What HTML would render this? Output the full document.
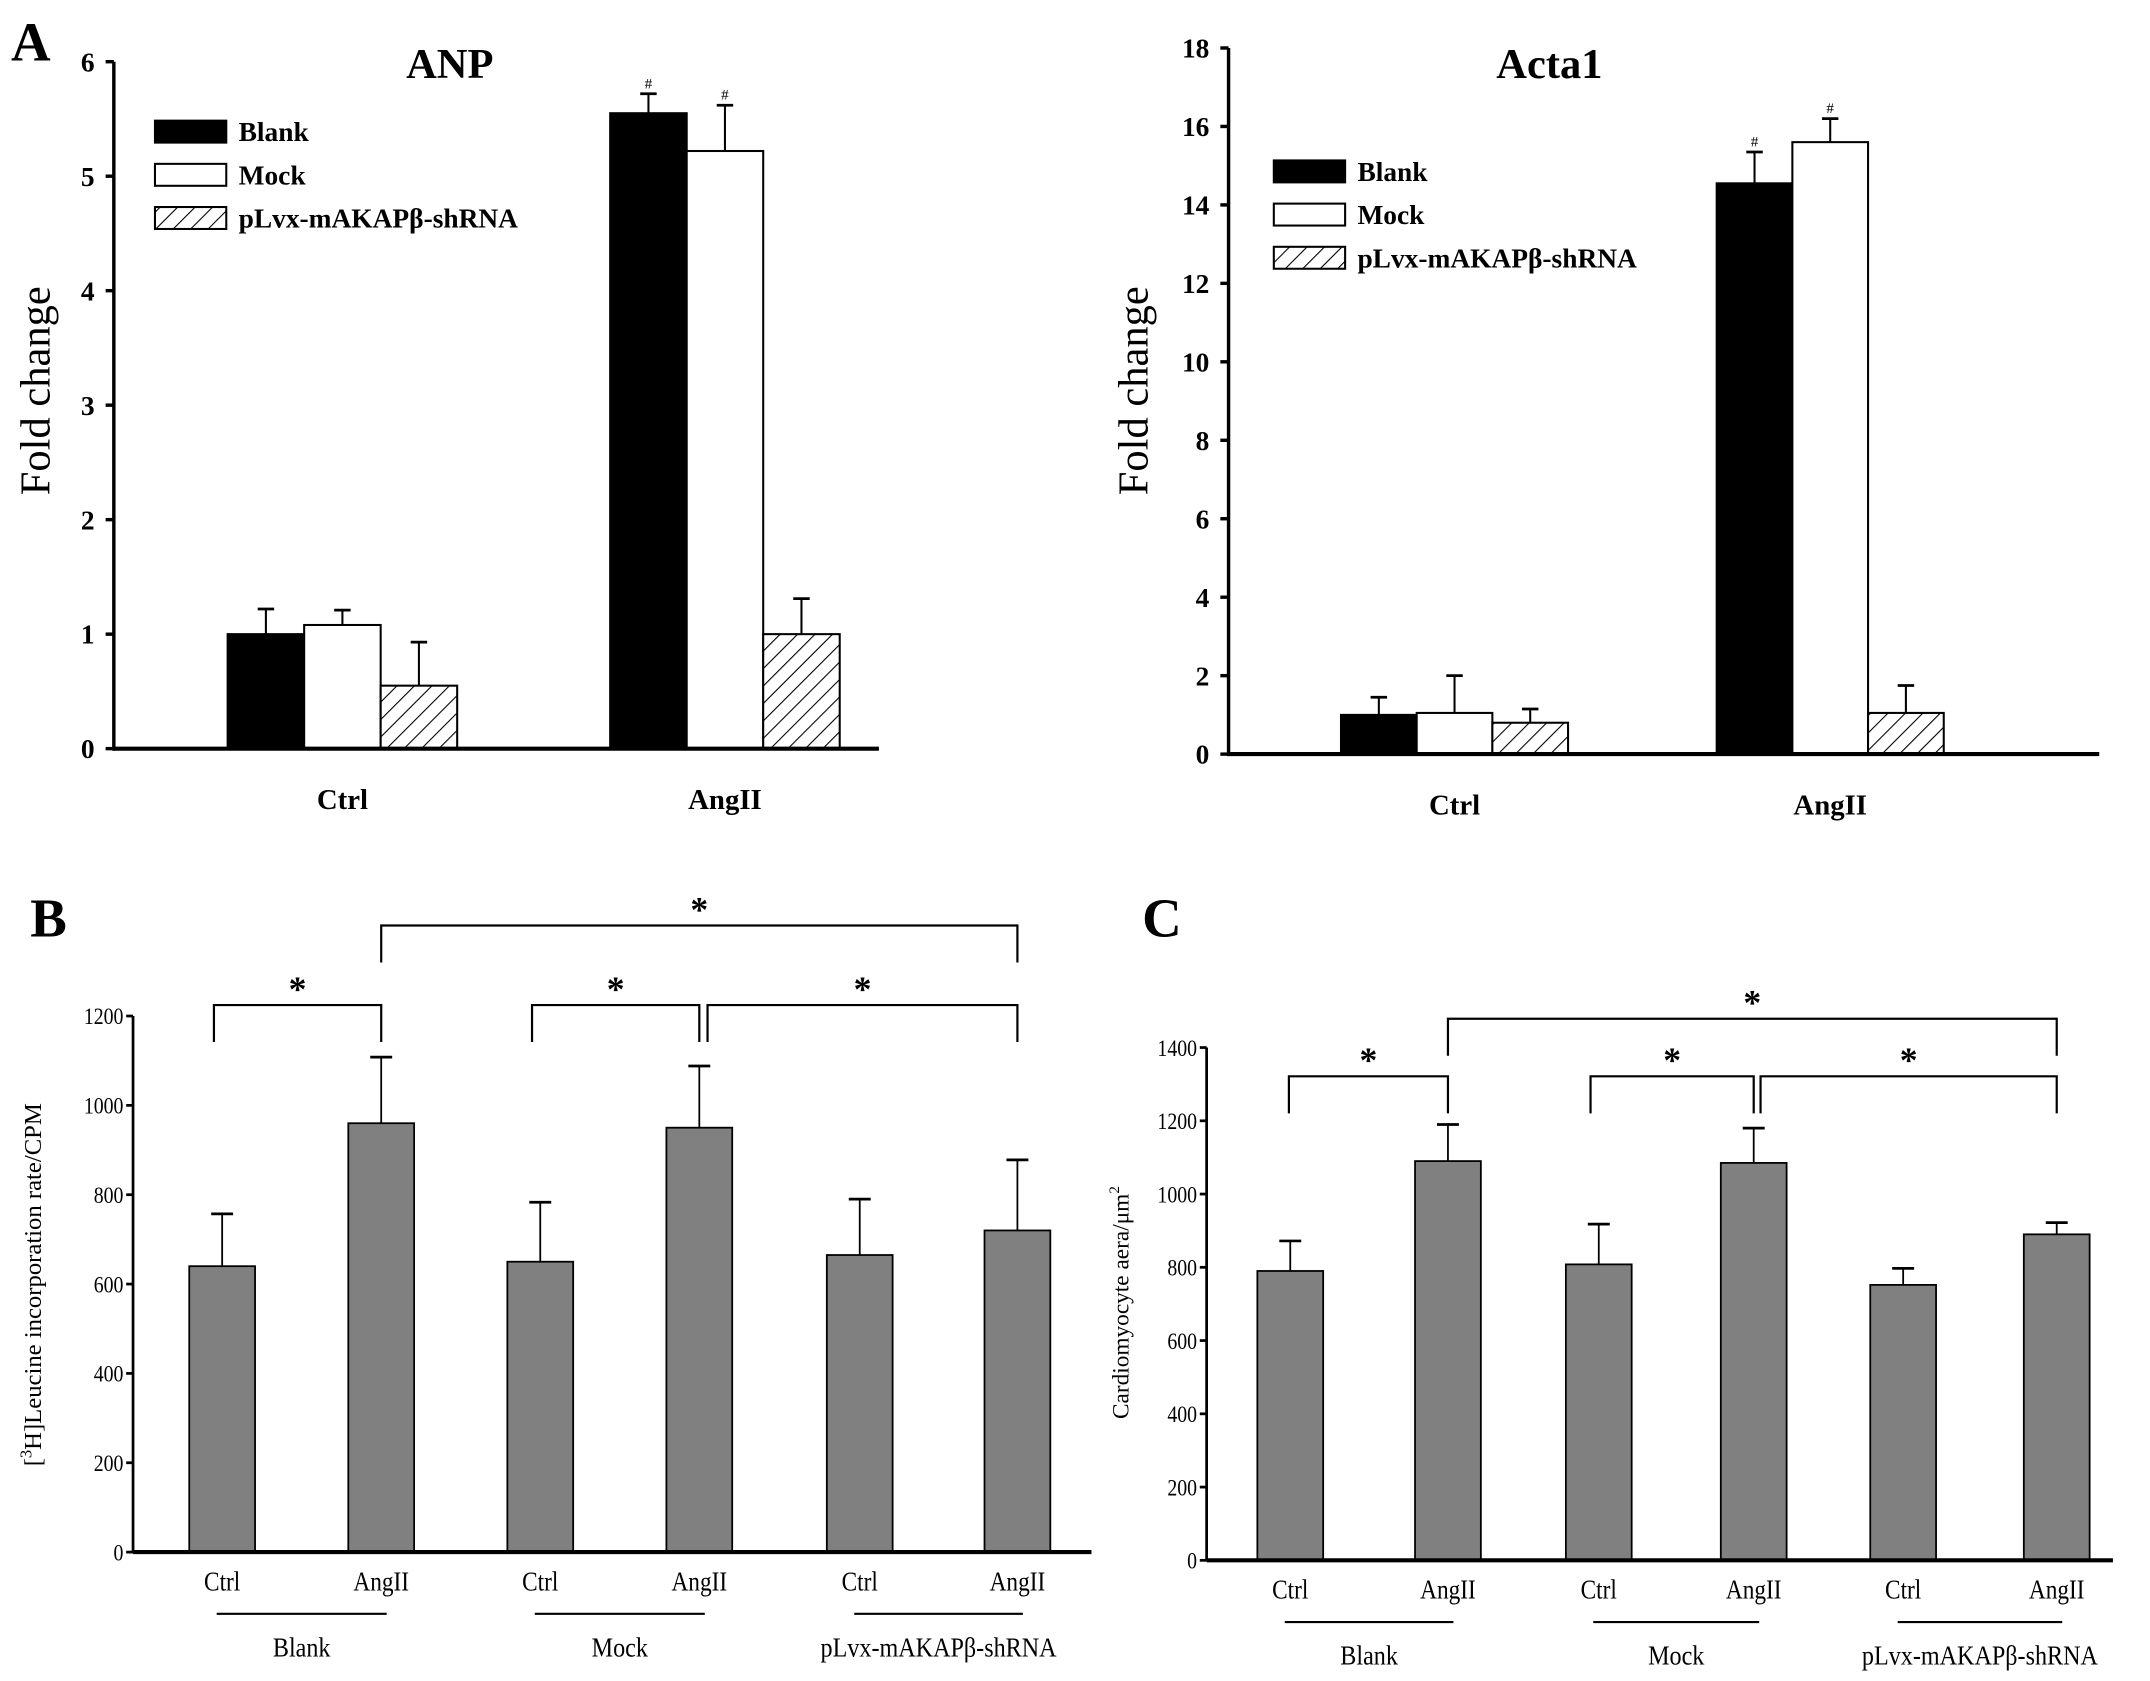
<!DOCTYPE html>
<html><head><meta charset="utf-8"><style>
html,body{margin:0;padding:0;background:#fff}
svg{display:block}
text{font-family:"Liberation Serif",serif;fill:#000}
</style></head><body>
<svg id="fig" width="2150" height="1681" viewBox="0 0 1568 1226" xmlns="http://www.w3.org/2000/svg">
<defs>
<pattern id="hatch" patternUnits="userSpaceOnUse" width="9" height="9" patternTransform="rotate(45)">
<rect width="9" height="9" fill="#fff"/><line x1="0" y1="0" x2="0" y2="9" stroke="#000" stroke-width="1.6"/>
</pattern>
</defs>
<g id="root"></g>
</svg>
<script>
// Panel A - ANP
const anpCats = ["Ctrl","AngII"];
const anpBlank = [1.0, 5.55];
const anpMock = [1.08, 5.22];
const anpSh = [0.55, 1.0];
const anpBlankErr = [0.22, 0.17];
const anpMockErr = [0.13, 0.40];
const anpShErr = [0.38, 0.31];
const anpTicks = [0,1,2,3,4,5,6];
// Panel A - Acta1
const actaCats = ["Ctrl","AngII"];
const actaBlank = [1.0, 14.55];
const actaMock = [1.05, 15.6];
const actaSh = [0.8, 1.05];
const actaBlankErr = [0.45, 0.8];
const actaMockErr = [0.95, 0.6];
const actaShErr = [0.35, 0.7];
const actaTicks = [0,2,4,6,8,10,12,14,16,18];
// Panel B
const bCats = ["Ctrl","AngII","Ctrl","AngII","Ctrl","AngII"];
const bValues = [640, 960, 650, 950, 665, 720];
const bErr = [117, 148, 133, 138, 125, 158];
const bTicks = [0,200,400,600,800,1000,1200];
// Panel C
const cCats = ["Ctrl","AngII","Ctrl","AngII","Ctrl","AngII"];
const cValues = [790, 1090, 808, 1085, 752, 890];
const cErr = [82, 100, 110, 95, 45, 32];
const cTicks = [0,200,400,600,800,1000,1200,1400];
const groupNames = ["Blank","Mock","pLvx-mAKAPβ-shRNA"];

const NS="http://www.w3.org/2000/svg";
const root=document.getElementById('root');
function mk(tag,attrs,parent,txt){const e=document.createElementNS(NS,tag);for(const k in attrs)e.setAttribute(k,attrs[k]);if(txt!==undefined)e.textContent=txt;(parent||root).appendChild(e);return e;}

function grouped(cfg){
  const g=mk('g',{});
  
  
  const y=v=>cfg.y0-(v/cfg.ymax)*(cfg.y0-cfg.yTop);
  // axes
  const ya=mk('line',{x1:cfg.x0,y1:y(cfg.ymax),x2:cfg.x0,y2:cfg.y0+1.5,stroke:'#000','stroke-width':2.5},g);
  
  
  cfg.ticks.forEach(t=>{
    mk('line',{x1:cfg.x0-6,y1:y(t),x2:cfg.x0,y2:y(t),stroke:'#000','stroke-width':2.5},g);
    const tl=mk('text',{x:cfg.x0-14,y:y(t)+7,'text-anchor':'end','font-size':20,'font-weight':'bold'},g,t);
    
    
  });
  const series=[[cfg.blank,cfg.blankErr,'#000'],[cfg.mock,cfg.mockErr,'#fff'],[cfg.sh,cfg.shErr,'url(#hatch)']];
  const names=['bar-blank','bar-mock','bar-shrna'];
  cfg.cats.forEach((c,i)=>{
    series.forEach((s,j)=>{
      const x=cfg.groupX[i]+j*cfg.bw;
      const v=s[0][i],e=s[1][i];
      const cx=x+cfg.bw/2;
      mk('line',{x1:cx,y1:y(v),x2:cx,y2:y(v+e),stroke:'#000','stroke-width':1.5},g);
      mk('line',{x1:cx-6,y1:y(v+e),x2:cx+6,y2:y(v+e),stroke:'#000','stroke-width':2},g);
      const r=mk('rect',{x:x,y:y(v),width:cfg.bw,height:cfg.y0-y(v),fill:s[2],stroke:'#000','stroke-width':1.5},g);
      
      
      if(i===1&&j<2){mk('text',{x:cx,y:y(v+e)-4,'text-anchor':'middle','font-size':11},g,'#');}
    });
    const cl=mk('text',{x:cfg.groupX[i]+cfg.bw*1.5,y:cfg.y0+44,'text-anchor':'middle','font-size':21,'font-weight':'bold'},g,c);
    
    
  });
  const xa=mk('line',{x1:cfg.x0,y1:cfg.y0,x2:cfg.xEnd,y2:cfg.y0,stroke:'#000','stroke-width':3},g);
  
  
  const ti=mk('text',{x:cfg.titleX,y:cfg.titleY,'text-anchor':'middle','font-size':31,'font-weight':'bold'},g,cfg.title);
  
  
  const yt=mk('text',{x:0,y:0,'text-anchor':'middle','font-size':31,transform:`translate(${cfg.ytX},${cfg.ytY}) rotate(-90)`},g,'Fold change');
  
  
  const lg=[['Blank','#000'],['Mock','#fff'],['pLvx-mAKAPβ-shRNA','url(#hatch)']];
  lg.forEach((l,k)=>{
    const ly=cfg.legY+k*31.5;
    const le=mk('g',{},g);
    
    
    mk('rect',{x:cfg.legX,y:ly-8,width:52,height:16,fill:l[1],stroke:'#000','stroke-width':1.5},le);
    mk('text',{x:cfg.legX+61,y:ly+7,'font-size':20,'font-weight':'bold'},le,l[0]);
  });
}

grouped({name:'anp-chart',cats:anpCats,blank:anpBlank,mock:anpMock,sh:anpSh,blankErr:anpBlankErr,mockErr:anpMockErr,shErr:anpShErr,
  ticks:anpTicks,ymax:6,x0:83,xEnd:641,y0:546,yTop:45,groupX:[166,445],bw:55.8,title:'ANP',titleX:328,titleY:57,ytX:36,ytY:285,legX:113,legY:96});
grouped({name:'acta1-chart',cats:actaCats,blank:actaBlank,mock:actaMock,sh:actaSh,blankErr:actaBlankErr,mockErr:actaMockErr,shErr:actaShErr,
  ticks:actaTicks,ymax:18,x0:896,xEnd:1531,y0:550,yTop:35,groupX:[978,1252],bw:55.2,title:'Acta1',titleX:1130,titleY:57,ytX:837,ytY:285,legX:929,legY:125});

const pa=mk('text',{x:8,y:44,'font-size':40,'font-weight':'bold'},root,'A');



function single(cfg){
  const g=mk('g',{});
  
  
  const y=v=>cfg.y0-(v/cfg.ymax)*(cfg.y0-cfg.yTop);
  const ya=mk('line',{x1:cfg.x0,y1:y(cfg.ymax),x2:cfg.x0,y2:cfg.y0,stroke:'#000','stroke-width':2},g);
  
  
  cfg.ticks.forEach(t=>{
    mk('line',{x1:cfg.x0-5,y1:y(t),x2:cfg.x0,y2:y(t),stroke:'#000','stroke-width':2},g);
    const tl=mk('text',{x:cfg.x0-7,y:y(t)+6,'text-anchor':'end','font-size':17,transform:`translate(${cfg.x0-7},0) scale(0.85,1) translate(${-(cfg.x0-7)},0)`},g,t);
    
    
  });
  cfg.vals.forEach((v,i)=>{
    const cx=cfg.xs[i];
    const e=cfg.err[i];
    mk('line',{x1:cx,y1:y(v),x2:cx,y2:y(v+e),stroke:'#000','stroke-width':1.3},g);
    mk('line',{x1:cx-8,y1:y(v+e),x2:cx+8,y2:y(v+e),stroke:'#000','stroke-width':2},g);
    const r=mk('rect',{x:cx-cfg.bw/2,y:y(v),width:cfg.bw,height:cfg.y0-y(v),fill:'#808080',stroke:'#000','stroke-width':1.3},g);
    
    
    const cl=mk('text',{x:cx,y:cfg.y0+28,'text-anchor':'middle','font-size':20,transform:`translate(${cx},0) scale(0.85,1) translate(${-cx},0)`},g,cfg.cats[i]);
    
    
  });
  const xa=mk('line',{x1:cfg.x0,y1:cfg.y0,x2:cfg.xEnd,y2:cfg.y0,stroke:'#000','stroke-width':3},g);
  
  
  groupNames.forEach((n,k)=>{
    const a=cfg.xs[2*k]-4,b=cfg.xs[2*k+1]+4;
    mk('line',{x1:a,y1:cfg.y0+45,x2:b,y2:cfg.y0+45,stroke:'#000','stroke-width':1.5},g);
    const gl=mk('text',{x:(a+b)/2,y:cfg.y0+76,'text-anchor':'middle','font-size':20,transform:`translate(${(a+b)/2},0) scale(0.88,1) translate(${-(a+b)/2},0)`},g,n);
    
    
  });
  cfg.brackets.forEach(br=>{
    const bx1=cfg.xs[br[0]]-br[3],bx2=cfg.xs[br[1]];
    const by=br[2];
    const bg=mk('g',{},g);
    
    
    mk('polyline',{points:`${bx1},${by+27} ${bx1},${by} ${bx2},${by} ${bx2},${by+27}`,fill:'none',stroke:'#000','stroke-width':1.6},bg);
    mk('text',{x:(bx1+bx2)/2,y:by-3,'text-anchor':'middle','font-size':26,'font-weight':'bold'},bg,'*');
  });
  const yt=mk('text',{x:0,y:0,'text-anchor':'middle','font-size':cfg.ytSize,transform:`translate(${cfg.ytX},${cfg.ytY}) rotate(-90)`},g);
  
  
  if(cfg.sup){
    mk('tspan',{},yt,'[');mk('tspan',{dy:-7,'font-size':12},yt,'3');mk('tspan',{dy:7},yt,'H]Leucine incorporation rate/CPM');
  } else {
    mk('tspan',{},yt,'Cardiomyocyte aera/μm');mk('tspan',{dy:-7,'font-size':11},yt,'2');
  }
  const pl=mk('text',{x:cfg.plX,y:cfg.plY,'font-size':40,'font-weight':'bold'},root,cfg.panel);
  
  
}

single({name:'leucine-chart',cats:bCats,vals:bValues,err:bErr,ticks:bTicks,ymax:1200,x0:97,xEnd:796,y0:1132,yTop:741,
  xs:[162,278,394,510,627,742],bw:48,ytX:30,ytY:937,ytSize:18,sup:true,panel:'B',plX:22,plY:683,
  brackets:[[0,1,733,6],[2,3,733,6],[3,4,733,-6,],[1,5,675,0]].map(b=>b[0]===3?[3,5,733,-6]:b)});
single({name:'area-chart',cats:cCats,vals:cValues,err:cErr,ticks:cTicks,ymax:1400,x0:880,xEnd:1541,y0:1138,yTop:764,
  xs:[941,1056,1166,1279,1388,1500],bw:48,ytX:823,ytY:950,ytSize:17,sup:false,panel:'C',plX:833,plY:683,
  brackets:[[0,1,785,1],[2,3,785,6],[3,5,785,-5],[1,5,743,0]]});
</script>
</body></html>
